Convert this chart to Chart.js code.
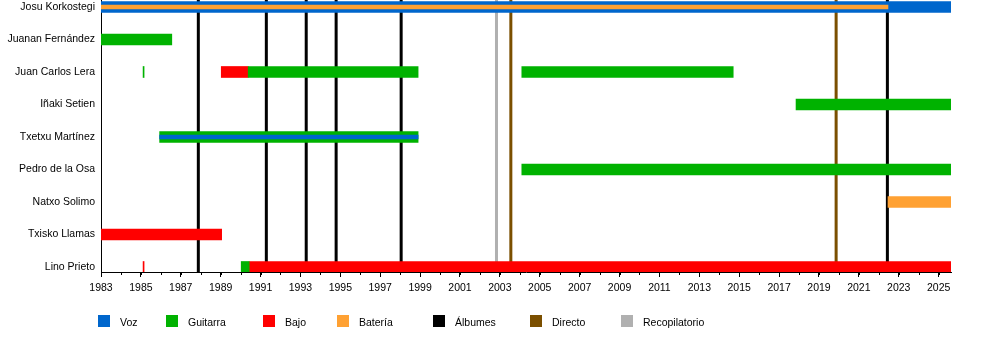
<!DOCTYPE html>
<html>
<head>
<meta charset="utf-8">
<script src="https://cdn.jsdelivr.net/npm/chart.js@4.4.1/dist/chart.umd.min.js"></script>
<style>
  body { margin: 0; background: #fff; font-family: "Liberation Sans", Arial, sans-serif; }
  #wrap { position: relative; width: 1000px; height: 352px; }
  #legend { position: absolute; left: 0; top: 315px; width: 1000px; height: 14px; }
  .item { position: absolute; top: 0; font-size: 10.5px; color: #000; line-height: 12px; }
  .item span.box { position: absolute; left: 0; top: 0; width: 12px; height: 12px; }
  .item span.txt { position: absolute; left: 22px; top: 1px; white-space: nowrap; }
</style>
</head>
<body>
<div id="wrap">
  <canvas id="timeline" width="1000" height="352"></canvas>
  <div id="legend"></div>
</div>
<script>
const members = ['Josu Korkostegi', 'Juanan Fernández', 'Juan Carlos Lera', 'Iñaki Setien',
  'Txetxu Martínez', 'Pedro de la Osa', 'Natxo Solimo', 'Txisko Llamas', 'Lino Prieto'];
const END = 2025.62;

// periods per role
const voz = [
  { m: 'Josu Korkostegi', from: 1983, to: END }
];
const vozThin = [
  { m: 'Txetxu Martínez', from: 1985.94, to: 1998.9 }
];
const guitarra = [
  { m: 'Juanan Fernández', from: 1983, to: 1986.55 },
  { m: 'Juan Carlos Lera', from: 1985.11, to: 1985.16 },
  { m: 'Juan Carlos Lera', from: 1990.38, to: 1998.9 },
  { m: 'Juan Carlos Lera', from: 2004.1, to: 2014.7 },
  { m: 'Iñaki Setien', from: 2017.85, to: END },
  { m: 'Txetxu Martínez', from: 1985.94, to: 1998.9 },
  { m: 'Pedro de la Osa', from: 2004.1, to: END },
  { m: 'Lino Prieto', from: 1990.03, to: 1990.43 }
];
const bajo = [
  { m: 'Juan Carlos Lera', from: 1989.03, to: 1990.38 },
  { m: 'Txisko Llamas', from: 1983, to: 1989.05 },
  { m: 'Lino Prieto', from: 1985.11, to: 1985.16 },
  { m: 'Lino Prieto', from: 1990.43, to: END }
];
const bateria = [
  { m: 'Natxo Solimo', from: 2022.46, to: END }
];
const bateriaThin = [
  { m: 'Josu Korkostegi', from: 1983, to: 2022.46 }
];

// releases
const albumes = [1987.88, 1991.29, 1993.29, 1994.79, 1998.05, 2022.43];
const directo = [2003.55, 2019.86];
const recopilatorio = [2002.83];

const yearTicks = [1983, 1985, 1987, 1989, 1991, 1993, 1995, 1997, 1999, 2001, 2003, 2005,
  2007, 2009, 2011, 2013, 2015, 2017, 2019, 2021, 2023, 2025];

const legendItems = [
  { label: 'Voz', color: '#0066cc' },
  { label: 'Guitarra', color: '#00b200' },
  { label: 'Bajo', color: '#ff0000' },
  { label: 'Batería', color: '#ffa133' },
  { label: 'Álbumes', color: '#000000' },
  { label: 'Directo', color: '#7b4f00' },
  { label: 'Recopilatorio', color: '#b0b0b0' }
];

const Y_MIN = -0.215, Y_MAX = 8.154;

function toBars(list) {
  return list.map(b => ({ x: [b.from, b.to], y: members.indexOf(b.m) }));
}

function barSet(list, color, thick, order) {
  return {
    type: 'bar',
    data: toBars(list),
    backgroundColor: color,
    borderWidth: 0,
    borderSkipped: false,
    barThickness: thick,
    grouped: false,
    order: order
  };
}

function lineSets(years, color) {
  return years.map(v => ({
    type: 'line',
    data: [{ x: v, y: Y_MIN - 1 }, { x: v, y: Y_MAX + 1 }],
    borderColor: color,
    borderWidth: 3,
    pointRadius: 0,
    fill: false,
    clip: 0,
    order: 2
  }));
}

// yearly minor ticks under the x axis
const minorTicks = {
  id: 'minorTicks',
  afterDraw(chart) {
    const x = chart.scales.x, c = chart.ctx, bottom = chart.chartArea.bottom;
    c.save();
    c.strokeStyle = '#000';
    c.lineWidth = 1;
    for (let yr = Math.ceil(x.min); yr <= x.max; yr++) {
      const px = Math.round(x.getPixelForValue(yr)) + 0.5;
      c.beginPath();
      c.moveTo(px, bottom);
      c.lineTo(px, bottom + 3);
      c.stroke();
    }
    c.restore();
  }
};

Chart.defaults.font.family = '"Liberation Sans", Arial, sans-serif';
Chart.defaults.color = '#000';

new Chart(document.getElementById('timeline'), {
  type: 'bar',
  data: {
    datasets: [
      barSet(vozThin, '#0066cc', 4, 0),
      barSet(bateriaThin, '#ffa133', 4, 0),
      barSet(voz, '#0066cc', 11, 1),
      barSet(guitarra, '#00b200', 11, 1),
      barSet(bajo, '#ff0000', 11, 1),
      barSet(bateria, '#ffa133', 11, 1),
      ...lineSets(recopilatorio, '#b0b0b0'),
      ...lineSets(directo, '#7b4f00'),
      ...lineSets(albumes, '#000000')
    ]
  },
  options: {
    indexAxis: 'y',
    responsive: false,
    animation: false,
    layout: { padding: { left: 0, right: 49, top: 0, bottom: 0 } },
    plugins: { legend: { display: false }, tooltip: { enabled: false } },
    scales: {
      x: {
        type: 'linear',
        min: 1983,
        max: END,
        offset: false,
        afterBuildTicks: s => { s.ticks = yearTicks.map(v => ({ value: v })); },
        afterFit: s => { s.height = 80; s.paddingLeft = 0; s.paddingRight = 0; },
        ticks: { font: { size: 10.5 }, padding: 5, maxRotation: 0, autoSkip: false, callback: v => String(v) },
        grid: { drawOnChartArea: false, tickLength: 5, color: '#000', offset: false },
        border: { display: true, color: '#000', width: 1 }
      },
      y: {
        type: 'linear',
        reverse: true,
        min: Y_MIN,
        max: Y_MAX,
        offset: false,
        afterBuildTicks: s => { s.ticks = members.map((_, i) => ({ value: i })); },
        afterFit: s => { s.width = 101; s.paddingTop = 0; s.paddingBottom = 0; },
        ticks: { font: { size: 10.5 }, padding: 6, callback: v => members[v] },
        grid: { display: false, tickLength: 0, offset: false },
        border: { display: true, color: '#000', width: 1 }
      }
    }
  },
  plugins: [minorTicks]
});

// legend below the plot
const legendLeft = [98, 166, 263, 337, 433, 530, 621];
const legend = document.getElementById('legend');
legendItems.forEach((it, i) => {
  const d = document.createElement('div');
  d.className = 'item';
  d.style.left = legendLeft[i] + 'px';
  d.innerHTML = `<span class="box" style="background:${it.color}"></span><span class="txt">${it.label}</span>`;
  legend.appendChild(d);
});
</script>
</body>
</html>
